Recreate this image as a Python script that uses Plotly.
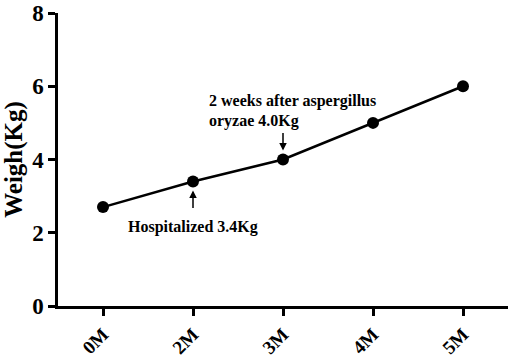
import plotly.graph_objects as go

months = ["0M", "2M", "3M", "4M", "5M"]
weights = [2.7, 3.4, 4.0, 5.0, 6.0]
y_ticks = [0, 2, 4, 6, 8]
note_hosp = "Hospitalized 3.4Kg"
note_asp_1 = "2 weeks after aspergillus"
note_asp_2 = "oryzae 4.0Kg"

FONT = "Liberation Serif"
ann_font = dict(family=FONT, size=16, color="black", weight="bold")

fig = go.Figure()
fig.add_trace(go.Scatter(
    x=list(range(len(months))), y=weights, mode="lines+markers",
    line=dict(color="black", width=2.5),
    marker=dict(color="black", size=12),
    showlegend=False, cliponaxis=False,
))

anns = []
i = months.index("2M")
anns.append(dict(x=i, y=weights[i], xref="x", yref="y", text="", showarrow=True,
                 ax=0, ay=28, standoff=9, arrowhead=2, arrowsize=1, arrowwidth=1.5,
                 arrowcolor="black"))
anns.append(dict(x=i, y=weights[i], xref="x", yref="y", text=note_hosp, showarrow=False,
                 yshift=-46, font=ann_font))
j = months.index("3M")
anns.append(dict(x=j, y=weights[j], xref="x", yref="y", text="", showarrow=True,
                 ax=0, ay=-28, standoff=9, arrowhead=2, arrowsize=1, arrowwidth=1.5,
                 arrowcolor="black"))
anns.append(dict(x=j, y=weights[j], xref="x", yref="y", text=note_asp_1, showarrow=False,
                 xanchor="left", xshift=-76, yshift=59, font=ann_font))
anns.append(dict(x=j, y=weights[j], xref="x", yref="y", text=note_asp_2, showarrow=False,
                 xanchor="left", xshift=-76, yshift=39, font=ann_font))

fig.update_layout(
    width=510, height=362,
    margin=dict(l=58, r=2, t=13, b=56),
    paper_bgcolor="white", plot_bgcolor="white",
    annotations=anns,
    xaxis=dict(
        range=[-0.5, 4.5], tickmode="array", tickvals=list(range(len(months))),
        ticktext=months, tickangle=-45, automargin=False,
        showline=True, linecolor="black", linewidth=2.5,
        ticks="outside", ticklen=7, tickwidth=2.5, tickcolor="black",
        showgrid=False, zeroline=False, ticklabeloverflow="allow",
        tickfont=dict(family=FONT, size=19, color="black", weight="bold"),
    ),
    yaxis=dict(
        range=[0, 8], tickmode="array", tickvals=y_ticks, automargin=False,
        showline=True, linecolor="black", linewidth=2.5,
        ticks="outside", ticklen=7, tickwidth=2.5, tickcolor="black",
        showgrid=False, zeroline=False, ticklabeloverflow="allow",
        tickfont=dict(family=FONT, size=23, color="black", weight="bold"),
        title=dict(text="Weigh(Kg)", standoff=6,
                   font=dict(family=FONT, size=25, color="black", weight="bold")),
    ),
)

fig.write_html("out.html", config={"displayModeBar": False},
               post_script="document.body.style.margin='0';")
